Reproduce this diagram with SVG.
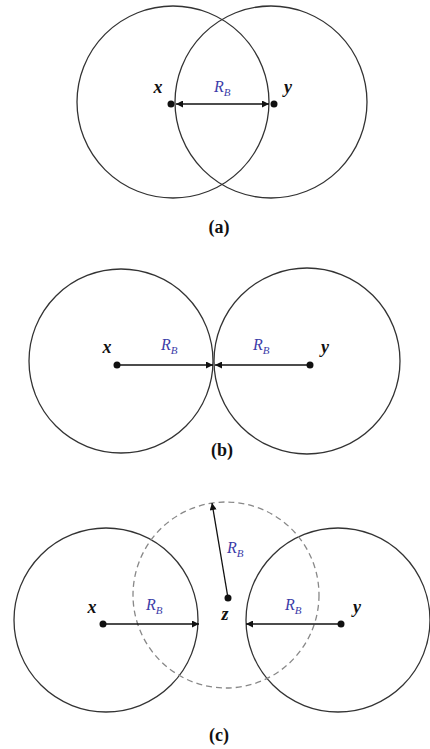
<svg xmlns="http://www.w3.org/2000/svg" width="430" height="749" viewBox="0 0 430 749">
<defs>
<marker id="ah" viewBox="0 0 10 10" refX="10" refY="5" markerWidth="8" markerHeight="7" markerUnits="userSpaceOnUse" orient="auto-start-reverse">
<path d="M0,0 L10,5 L0,10 z" fill="#111"/>
</marker>
<style>
.c{fill:none;stroke:#333;stroke-width:1.3}
.d{fill:none;stroke:#888;stroke-width:1.3;stroke-dasharray:6,4}
.a{stroke:#111;stroke-width:1.3;fill:none}
.p{fill:#111}
.v{font-family:"Liberation Serif",serif;font-size:18px;font-weight:bold;font-style:italic;fill:#111;text-anchor:middle}
.r{font-family:"Liberation Serif",serif;font-size:16px;font-style:italic;fill:#3c3ca8}
.s{font-size:11px}
.t{font-family:"Liberation Serif",serif;font-size:18px;font-weight:bold;fill:#111;text-anchor:middle}
</style>
</defs>
<g id="panel-a">
<g id="a-circle-x"><circle class="c" cx="173" cy="102" r="96"/></g>
<g id="a-circle-y"><circle class="c" cx="271" cy="102" r="96"/></g>
<g id="a-node-x"><circle class="p" cx="171" cy="104" r="3.5"/><text class="v" x="158" y="93">x</text></g>
<g id="a-node-y"><circle class="p" cx="274" cy="104" r="3.5"/><text class="v" x="288" y="93">y</text></g>
<text class="r" x="214" y="92">R<tspan class="s" dy="4">B</tspan></text>
<text class="t" x="219" y="233">(a)</text>
</g>
<g id="panel-b">
<g id="b-circle-x"><circle class="c" cx="121" cy="361" r="92"/></g>
<g id="b-circle-y"><circle class="c" cx="307" cy="361" r="93"/></g>
<g id="b-node-x"><circle class="p" cx="117" cy="365" r="3.5"/><text class="v" x="107" y="353">x</text></g>
<g id="b-node-y"><circle class="p" cx="310" cy="365" r="3.5"/><text class="v" x="325" y="353">y</text></g>
<text class="r" x="161" y="350">R<tspan class="s" dy="4">B</tspan></text>
<text class="r" x="253" y="350">R<tspan class="s" dy="4">B</tspan></text>
<text class="t" x="222" y="456">(b)</text>
</g>
<g id="panel-c">
<g id="c-circle-x"><circle class="c" cx="106" cy="620" r="92"/></g>
<g id="c-circle-y"><circle class="c" cx="338" cy="620" r="92"/></g>
<g id="c-circle-z"><circle class="d" cx="226" cy="595" r="93"/></g>
<g id="c-node-x"><circle class="p" cx="103" cy="624" r="3.5"/><text class="v" x="92" y="613">x</text></g>
<g id="c-node-y"><circle class="p" cx="341" cy="624" r="3.5"/><text class="v" x="357" y="613">y</text></g>
<g id="c-node-z"><circle class="p" cx="228" cy="598" r="3.5"/><text class="v" x="225" y="620">z</text></g>
<text class="r" x="146" y="610">R<tspan class="s" dy="4">B</tspan></text>
<text class="r" x="285" y="610">R<tspan class="s" dy="4">B</tspan></text>
<text class="r" x="227" y="553">R<tspan class="s" dy="4">B</tspan></text>
<text class="t" x="219" y="741">(c)</text>
</g>
<g id="connectors">
<line class="a" x1="176" y1="104" x2="269" y2="104" marker-start="url(#ah)" marker-end="url(#ah)"/>
<line class="a" x1="117" y1="365" x2="213" y2="365" marker-end="url(#ah)"/>
<line class="a" x1="310" y1="365" x2="215" y2="365" marker-end="url(#ah)"/>
<line class="a" x1="103" y1="624" x2="199" y2="624" marker-end="url(#ah)"/>
<line class="a" x1="341" y1="624" x2="246" y2="624" marker-end="url(#ah)"/>
<line class="a" x1="228" y1="598" x2="212" y2="503" marker-end="url(#ah)"/>
</g>
</svg>
